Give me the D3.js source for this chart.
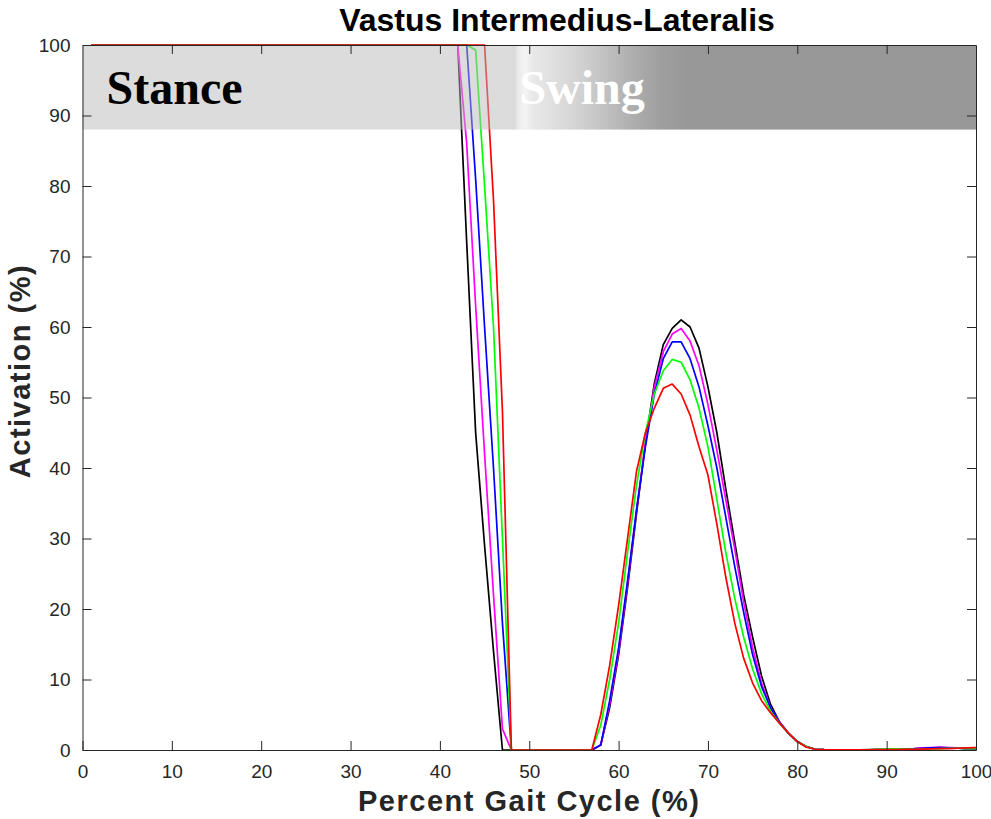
<!DOCTYPE html>
<html>
<head>
<meta charset="utf-8">
<script src="https://cdn.jsdelivr.net/npm/d3@7"></script>
<style>
  body { margin: 0; background: #fff; }
  svg text { font-family: "Liberation Sans", Arial, Helvetica, sans-serif; }
</style>
</head>
<body>
<div id="chart"></div>
<script>
// x = 1..100 % gait cycle, one value per percent
const gaitX = d3.range(1, 101);

const actBlack = [
  100,100,100,100,100,100,100,100,100,100, 100,100,100,100,100,100,100,100,100,100,
  100,100,100,100,100,100,100,100,100,100, 100,100,100,100,100,100,100,100,100,100,
  100,100,72,45,29,14,0,0,0,0, 0,0,0,0,0,0,0,0.7,6,13.5,
  23,33.5,43.5,52,57.5,59.8,61,60,57,51.5, 45,37,29.5,22,16,10.5,6.5,4,2.4,1.2,
  0.5,0.1,0.05,0.03,0.02,0.02,0.02,0.03,0.04,0.05, 0.08,0.1,0.15,0.2,0.25,0.3,0.3,0.25,0.2,0.15
];
const actMagenta = [
  100,100,100,100,100,100,100,100,100,100, 100,100,100,100,100,100,100,100,100,100,
  100,100,100,100,100,100,100,100,100,100, 100,100,100,100,100,100,100,100,100,100,
  100,100,86,63,42,22,3,0,0,0, 0,0,0,0,0,0,0,0.7,6.5,14,
  23.5,34,43.5,51.5,56.5,59,59.8,58,54.5,49, 42.5,35.5,28.5,21,14.5,9.5,6,4,2.4,1.2,
  0.5,0.1,0.05,0.03,0.02,0.02,0.03,0.04,0.05,0.06, 0.1,0.15,0.2,0.3,0.35,0.4,0.35,0.3,0.2,0.15
];
const actBlue = [
  100,100,100,100,100,100,100,100,100,100, 100,100,100,100,100,100,100,100,100,100,
  100,100,100,100,100,100,100,100,100,100, 100,100,100,100,100,100,100,100,100,100,
  100,100,100,81,60,40,18,0,0,0, 0,0,0,0,0,0,0,0.7,7,14.5,
  24,34,43,50.5,55.5,57.9,57.9,55.5,51.5,46, 40,33,26,19.5,13.5,9,6,3.9,2.4,1.2,
  0.5,0.1,0.05,0.03,0.02,0.02,0.02,0.03,0.04,0.05, 0.08,0.12,0.18,0.25,0.3,0.35,0.3,0.25,0.2,0.2
];
const actGreen = [
  100,100,100,100,100,100,100,100,100,100, 100,100,100,100,100,100,100,100,100,100,
  100,100,100,100,100,100,100,100,100,100, 100,100,100,100,100,100,100,100,100,100,
  100,100,100,99.3,80,60,30,0,0,0, 0,0,0,0,0,0,0,3.5,10,18,
  28,37.5,45,50.5,53.8,55.4,55,52.5,48.5,43, 35.5,28,21.5,16,11.5,8,5.5,3.8,2.4,1.2,
  0.5,0.1,0.05,0.03,0.02,0.02,0.03,0.05,0.08,0.12, 0.15,0.12,0.1,0.1,0.15,0.2,0.25,0.25,0.2,0.2
];
const actRed = [
  100,100,100,100,100,100,100,100,100,100, 100,100,100,100,100,100,100,100,100,100,
  100,100,100,100,100,100,100,100,100,100, 100,100,100,100,100,100,100,100,100,100,
  100,100,100,100,100,78,48,0,0,0, 0,0,0,0,0,0,0,5,12,20.5,
  30,39.5,45,48.5,51.3,51.9,50.5,47.5,43,39, 32,24.5,18,13,9.5,7,5.3,3.8,2.4,1.2,
  0.4,0.1,0.05,0.03,0.02,0.02,0.02,0.03,0.04,0.05, 0.06,0.08,0.1,0.12,0.15,0.2,0.2,0.25,0.3,0.35
];

const seriesList = [
  { name: "black", color: "#000000", values: actBlack },
  { name: "magenta", color: "#ff00ff", values: actMagenta },
  { name: "blue", color: "#0000ff", values: actBlue },
  { name: "green", color: "#00ff00", values: actGreen },
  { name: "red", color: "#ff0000", values: actRed }
];

const xTicks = [0, 10, 20, 30, 40, 50, 60, 70, 80, 90, 100];
const yTicks = [0, 10, 20, 30, 40, 50, 60, 70, 80, 90, 100];

// phase band (top strip) and its shading, in % gait cycle
const bandBottom = 88;
const phaseShade = [
  { at: 0, grey: 220 },
  { at: 48.5, grey: 220 },
  { at: 48.6, grey: 232 },
  { at: 49.5, grey: 244 },
  { at: 50.5, grey: 232 },
  { at: 53, grey: 222 },
  { at: 56, grey: 208 },
  { at: 59, grey: 190 },
  { at: 62, grey: 172 },
  { at: 65, grey: 158 },
  { at: 68, grey: 152 },
  { at: 100, grey: 152 }
];
const phaseLabels = [
  { text: "Stance", x: 2.7, color: "#000" },
  { text: "Swing", x: 48.9, color: "#fff" }
];

const W = 991, H = 819;
const m = { top: 45, right: 15, bottom: 69, left: 82.5 };

const svg = d3.select("#chart").append("svg")
  .attr("width", W)
  .attr("height", H);

const xSc = d3.scaleLinear().domain([0, 100]).range([m.left, W - m.right]);
const ySc = d3.scaleLinear().domain([0, 100]).range([H - m.bottom, m.top]);

// lines first, band sits over them semi-transparent
const line = d3.line()
  .x((d, i) => xSc(gaitX[i]))
  .y(d => ySc(d));

seriesList.forEach(s => {
  svg.append("path")
    .datum(s.values)
    .attr("fill", "none")
    .attr("stroke", s.color)
    .attr("stroke-width", 1.7)
    .attr("stroke-linejoin", "round")
    .attr("d", line);
});

// gradient: overlay colour chosen so that over white at 0.5 alpha it gives the target grey
const grad = svg.append("defs").append("linearGradient")
  .attr("id", "phaseGrad")
  .attr("gradientUnits", "userSpaceOnUse")
  .attr("x1", xSc(0)).attr("x2", xSc(100))
  .attr("y1", 0).attr("y2", 0);
grad.selectAll("stop")
  .data(phaseShade)
  .enter()
  .append("stop")
  .attr("offset", d => d.at / 100)
  .attr("stop-color", d => {
    const c = Math.max(0, 2 * d.grey - 255);
    return d3.rgb(c, c, c).formatHex();
  });

svg.append("rect")
  .attr("x", xSc(0))
  .attr("y", ySc(100))
  .attr("width", xSc(100) - xSc(0))
  .attr("height", ySc(bandBottom) - ySc(100))
  .attr("fill", "url(#phaseGrad)")
  .attr("fill-opacity", 0.5);

svg.selectAll("text.phase")
  .data(phaseLabels)
  .enter()
  .append("text")
  .attr("class", "phase")
  .attr("x", d => xSc(d.x))
  .attr("y", 104)
  .style("font-family", "'Liberation Serif', 'Times New Roman', serif")
  .style("font-weight", "bold")
  .style("font-size", "48px")
  .style("fill", d => d.color)
  .text(d => d.text);

// axes box with inward ticks on all sides
const axisCol = "#262626";
const tickLen = 9;

const gx = svg.append("g")
  .attr("transform", `translate(0,${ySc(0)})`)
  .call(d3.axisBottom(xSc).tickValues(xTicks).tickSizeInner(-tickLen).tickSizeOuter(0).tickPadding(15));
const gxTop = svg.append("g")
  .attr("transform", `translate(0,${ySc(100)})`)
  .call(d3.axisTop(xSc).tickValues(xTicks).tickSizeInner(-tickLen).tickSizeOuter(0).tickFormat(""));
const gy = svg.append("g")
  .attr("transform", `translate(${xSc(0)},0)`)
  .call(d3.axisLeft(ySc).tickValues(yTicks).tickSizeInner(-tickLen).tickSizeOuter(0).tickPadding(12));
const gyRight = svg.append("g")
  .attr("transform", `translate(${xSc(100)},0)`)
  .call(d3.axisRight(ySc).tickValues(yTicks).tickSizeInner(-tickLen).tickSizeOuter(0).tickFormat(""));

[gx, gxTop, gy, gyRight].forEach(g => {
  g.select(".domain").attr("stroke", axisCol).attr("stroke-width", 1);
  g.selectAll(".tick line").attr("stroke", axisCol);
  g.selectAll(".tick text")
    .attr("fill", axisCol)
    .style("font-family", "'Liberation Sans', Arial, sans-serif")
    .style("font-size", "19px");
});
// the top/right tick at the corners would double the frame, drop them
gxTop.selectAll(".tick").filter(d => d === 0 || d === 100).select("line").remove();
gyRight.selectAll(".tick").filter(d => d === 0 || d === 100).select("line").remove();

// title + axis labels
svg.append("text")
  .attr("x", 557)
  .attr("y", 31)
  .attr("text-anchor", "middle")
  .style("font-weight", "bold")
  .style("font-size", "32px")
  .style("fill", "#000")
  .text("Vastus Intermedius-Lateralis");

svg.append("text")
  .attr("x", (xSc(0) + xSc(100)) / 2)
  .attr("y", 811)
  .attr("text-anchor", "middle")
  .style("font-weight", "bold")
  .style("font-size", "29px")
  .style("letter-spacing", "1.5px")
  .style("fill", axisCol)
  .text("Percent Gait Cycle (%)");

svg.append("text")
  .attr("transform", `translate(30,371) rotate(-90)`)
  .attr("text-anchor", "middle")
  .style("font-weight", "bold")
  .style("font-size", "29px")
  .style("letter-spacing", "1.5px")
  .style("fill", axisCol)
  .text("Activation (%)");
</script>
</body>
</html>
